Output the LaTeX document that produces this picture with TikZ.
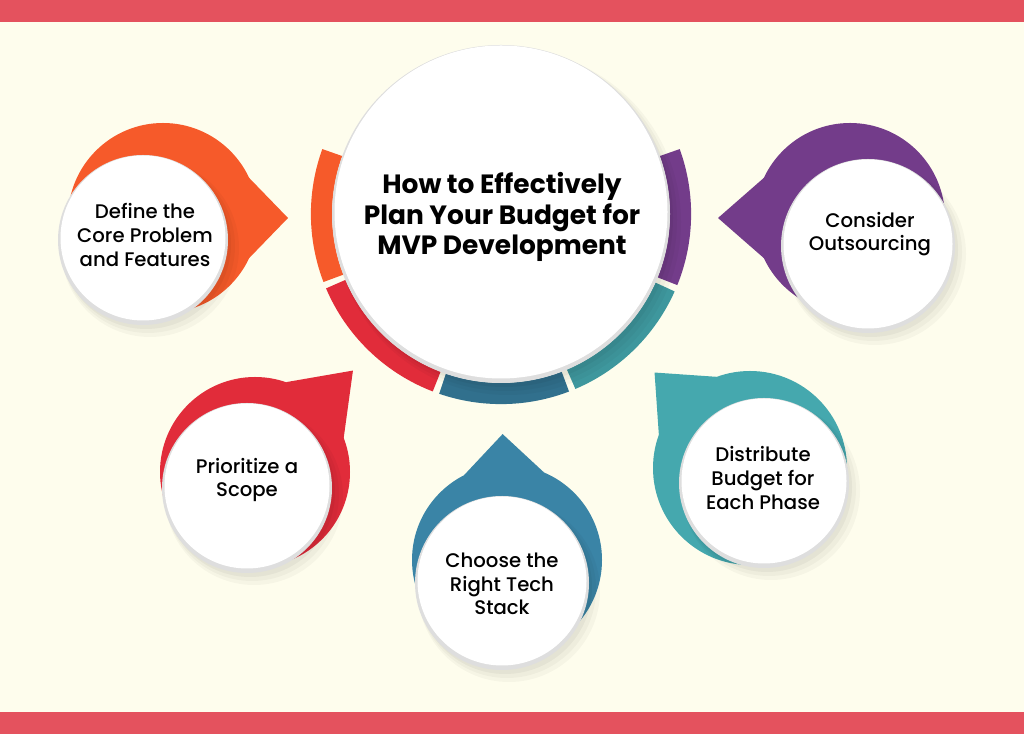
\documentclass[tikz,border=0pt]{standalone}
\usepackage{fontspec}
\setmainfont{Poppins}
\newfontfamily\medfont{Poppins Medium}
\usetikzlibrary{calc}
\definecolor{bandred}{HTML}{E4525E}
\definecolor{cream}{HTML}{FEFDED}
\definecolor{orangeC}{HTML}{F65A2A}
\definecolor{redC}{HTML}{E12C3A}
\definecolor{blueC}{HTML}{3A84A6}
\definecolor{tealC}{HTML}{45A8AE}
\definecolor{purpleC}{HTML}{733C8A}
\def\ringarc[#1](#2:#3){\draw[#1, line width=0.53cm] ($(501,520)+(#2:179.5)$) arc (#2:#3:179.5);}
\def\tipdisc[#1](#2)(#3:#4:#5){\fill[#1] (#2) circle (#3); \fill[#1] ($(#2)+(#4+25:#3)$) -- ($(#2)+(#4:#5)$) -- ($(#2)+(#4-25:#3)$) -- cycle;}
\def\whitedisc(#1)(#2){\fill[black, opacity=0.03] ($(#1)+(7,-8)$) circle (#2+4); \fill[black, opacity=0.03] ($(#1)+(5,-6)$) circle (#2+2); \fill[black, opacity=0.04] ($(#1)+(3,-4)$) circle (#2); \fill[black!13] (#1) circle (#2); \fill[white] ($(#1)+(0,2)$) circle (#2-2.5);}
\tikzset{
  sattext/.style={align=center, text=black, font=\medfont\fontsize{14}{16.8}\selectfont},
  titletext/.style={align=center, text=black, font=\bfseries\fontsize{18.8}{22}\selectfont}
}

\begin{document}
\begin{tikzpicture}[x=0.025cm, y=0.025cm]
			%%%%% START %%%%%
			\useasboundingbox (0, 0) rectangle (1024, 734);
			\fill[cream] (0, 0) rectangle (1024, 734);
			\fill[bandred] (0, 712) rectangle (1024, 734);
			\fill[bandred] (0, 0) rectangle (1024, 22);
			
			\ringarc[orangeC](160:201);
			\ringarc[redC](203:249);
			\ringarc[blueC!85!black](251:291);
			\ringarc[tealC!90!black](293:336);
			\ringarc[purpleC](338:380);
			
			\whitedisc(501, 520)(169);
			\node[titletext] (title) at (502, 517) {How to Effectively\\Plan Your Budget for\\MVP Development};
			
			\tipdisc[orangeC](163, 516)(95:0:125);
			\whitedisc(143, 494)(85);
			\node[sattext] (define) at (145, 499) {Define the\\Core Problem\\and Features};
			
			\tipdisc[redC](255, 262)(95:46:141);
			\whitedisc(247, 246)(85);
			\node[sattext] (scope) at (247, 254) {Prioritize a\\Scope};
			
			\tipdisc[blueC](507, 174)(95:92:126);
			\whitedisc(502, 151)(87);
			\node[sattext] (stack) at (502, 150) {Choose the\\Right Tech\\Stack};
			
			\tipdisc[tealC](750, 266)(97:135:135);
			\whitedisc(764, 251)(85);
			\node[sattext] (phase) at (763, 256) {Distribute\\Budget for\\Each Phase};
			
			\tipdisc[purpleC](850, 516)(95:180:132);
			\whitedisc(868, 488)(87);
			\node[sattext] (outsource) at (870, 500) {Consider\\Outsourcing};
			
			%%%%% END %%%%%
\end{tikzpicture}
\end{document}
